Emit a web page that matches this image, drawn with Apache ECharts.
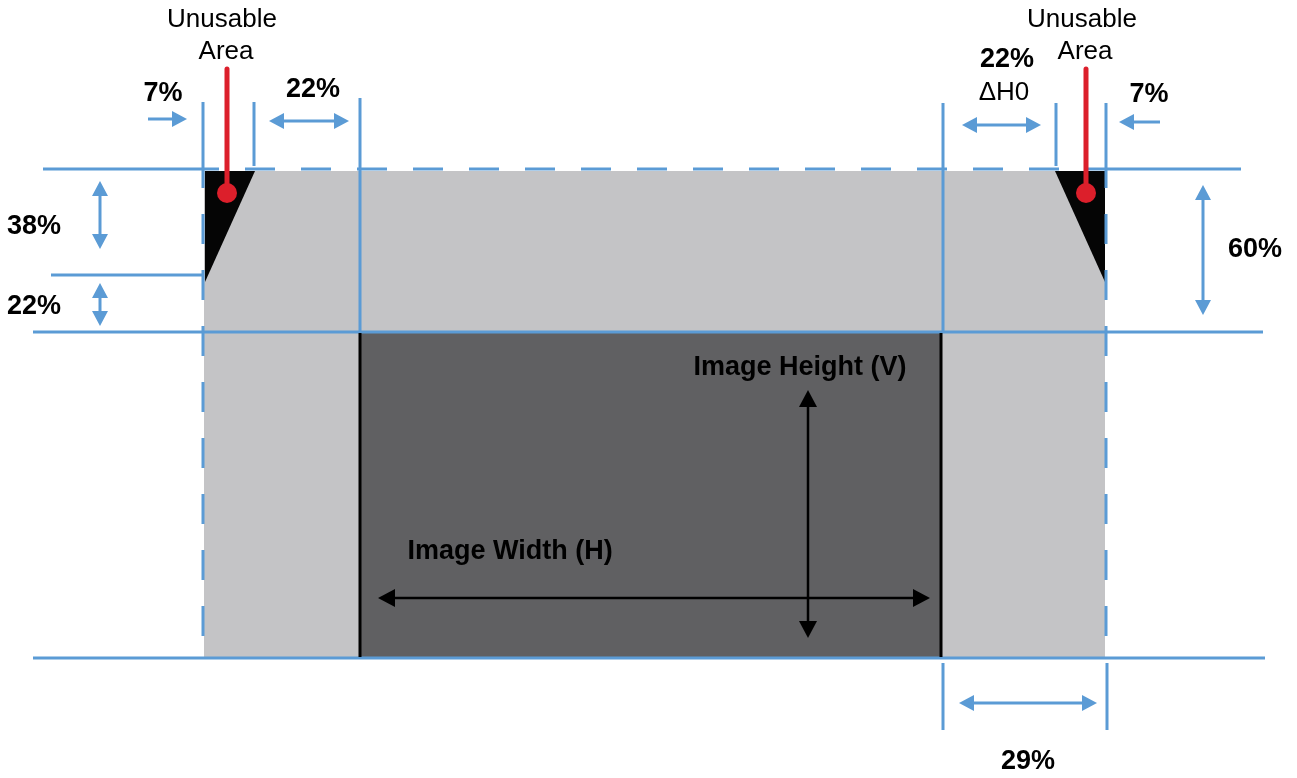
<!DOCTYPE html>
<html>
<head>
<meta charset="utf-8">
<script src="https://cdn.jsdelivr.net/npm/echarts@6/dist/echarts.min.js"></script>
<style>
html,body{margin:0;padding:0;background:#fff;}
#chart{width:1297px;height:778px;}
</style>
</head>
<body>
<div id="chart"></div>
<script>
// drawing space in picture units (x right, y down)
var spaceW = 1297, spaceH = 778;

// filled areas, corner points
var panelArea = [[[204,171],[1105,171],[1105,658],[204,658]]];
var unusableCorners = [
  [[205,171],[255,171],[205,282]],
  [[1055,171],[1105,171],[1105,282]]
];
var imageArea = [[[361,333],[941,333],[941,657],[361,657]]];

// guide lines: x1, y1, x2, y2
var guideLines = [
  [43,169,203,169],[203,102,203,172],[254,102,254,166],[360,98,360,333],
  [51,275,203,275],[33,332,1263,332],[33,658,1265,658],
  [943,103,943,333],[1056,103,1056,166],[1106,103,1106,172],[1106,169,1241,169],
  [943,663,943,730],[1107,663,1107,730]
];
var panelEdges = [[203,169,1106,169],[203,172,203,658],[1106,172,1106,658]];
var imageEdges = [[360,333,360,657],[941,333,941,657]];

// pins: x, top, bottom
var pins = [[227,69,193],[1086,69,193]];

// arrows: x1, y1, x2, y2, heads (1 = at end, 2 = both ends)
var dimArrows = [
  [148,119,187,119,1],[269,121,349,121,2],[100,181,100,249,2],[100,283,100,326,2],
  [962,125,1041,125,2],[1160,122,1119,122,1],[1203,185,1203,315,2],[959,703,1097,703,2]
];
var imageArrows = [[378,598,930,598,2],[808,390,808,638,2]];

// labels: text, x, y, bold
var labels = [
  ['Unusable',222,20,0],['Area',226,52,0],['7%',163,94,1],['22%',313,90,1],
  ['38%',34,227,1],['22%',34,307,1],
  ['Unusable',1082,20,0],['Area',1085,52,0],['22%',1007,60,1],['\u0394H0',1004,93,0],
  ['7%',1149,95,1],['60%',1255,250,1],
  ['Image Height (V)',800,368,1],['Image Width (H)',510,552,1],['29%',1028,762,1]
];

var blue = '#5b9bd5';
var font = '"Liberation Sans", Arial, Helvetica, sans-serif';

function polySeries(list, color, z) {
  return {
    type: 'custom', z: z, silent: true,
    data: list.map(function (p, i) { return [p[0][0], p[0][1], i]; }),
    renderItem: function (params, api) {
      var pts = list[params.dataIndex].map(function (p) { return api.coord(p); });
      return {type: 'polygon', shape: {points: pts}, style: {fill: color}};
    }
  };
}

function lineSeries(list, color, width, dash, z) {
  return {
    type: 'custom', z: z, silent: true,
    data: list,
    renderItem: function (params, api) {
      var a = api.coord([api.value(0), api.value(1)]);
      var b = api.coord([api.value(2), api.value(3)]);
      return {type: 'line', shape: {x1: a[0], y1: a[1], x2: b[0], y2: b[1]},
        style: {stroke: color, lineWidth: width, lineDash: dash, lineDashOffset: dash ? 14 : 0, lineCap: 'butt'}};
    }
  };
}

function head(tip, from, len, half, color) {
  var dx = tip[0] - from[0], dy = tip[1] - from[1];
  var d = Math.sqrt(dx * dx + dy * dy);
  var ux = dx / d, uy = dy / d;
  var bx = tip[0] - ux * len, by = tip[1] - uy * len;
  return {type: 'polygon', shape: {points: [tip, [bx - uy * half, by + ux * half], [bx + uy * half, by - ux * half]]},
    style: {fill: color}};
}

function arrowSeries(list, color, width, len, half, z) {
  return {
    type: 'custom', z: z, silent: true,
    data: list,
    renderItem: function (params, api) {
      var a = api.coord([api.value(0), api.value(1)]);
      var b = api.coord([api.value(2), api.value(3)]);
      var both = api.value(4) === 2;
      var dx = b[0] - a[0], dy = b[1] - a[1];
      var d = Math.sqrt(dx * dx + dy * dy);
      var ux = dx / d, uy = dy / d;
      var s = both ? [a[0] + ux * len * 0.6, a[1] + uy * len * 0.6] : a;
      var e = [b[0] - ux * len * 0.6, b[1] - uy * len * 0.6];
      var kids = [{type: 'line', shape: {x1: s[0], y1: s[1], x2: e[0], y2: e[1]},
        style: {stroke: color, lineWidth: width}}];
      kids.push(head(b, a, len, half, color));
      if (both) kids.push(head(a, b, len, half, color));
      return {type: 'group', children: kids};
    }
  };
}

var chart = echarts.init(document.getElementById('chart'));
var option = {
  animation: false,
  backgroundColor: '#ffffff',
  grid: {left: 0, right: 0, top: 0, bottom: 0},
  xAxis: {type: 'value', min: 0, max: spaceW, show: false},
  yAxis: {type: 'value', min: 0, max: spaceH, inverse: true, show: false},
  series: [
    polySeries(panelArea, '#c4c4c6', 1),
    polySeries(unusableCorners, '#050505', 2),
    polySeries(imageArea, '#606062', 3),
    lineSeries(guideLines, blue, 3, null, 4),
    lineSeries(panelEdges, blue, 3, [30, 26], 4),
    lineSeries(imageEdges, '#000000', 3, null, 5),
    {
      type: 'custom', z: 6, silent: true,
      data: pins,
      renderItem: function (params, api) {
        var t = api.coord([api.value(0), api.value(1)]);
        var b = api.coord([api.value(0), api.value(2)]);
        return {type: 'group', children: [
          {type: 'line', shape: {x1: t[0], y1: t[1], x2: b[0], y2: b[1]},
            style: {stroke: '#dc1f2b', lineWidth: 5, lineCap: 'round'}},
          {type: 'circle', shape: {cx: b[0], cy: b[1], r: 10}, style: {fill: '#dc1f2b'}}
        ]};
      }
    },
    arrowSeries(dimArrows, blue, 3, 15, 8, 6),
    arrowSeries(imageArrows, '#000000', 2.5, 17, 9, 7),
    {
      type: 'custom', z: 8, silent: true,
      data: labels.map(function (l) { return [l[1], l[2]]; }),
      renderItem: function (params, api) {
        var l = labels[params.dataIndex];
        var p = api.coord([api.value(0), api.value(1)]);
        return {type: 'text', style: {
          text: l[0], x: p[0], y: p[1],
          font: (l[3] ? 'bold 27px ' : '26px ') + font,
          fill: '#000000', align: 'center', verticalAlign: 'middle'
        }};
      }
    }
  ]
};
chart.setOption(option);
window.addEventListener('resize', chart.resize);
</script>
</body>
</html>
